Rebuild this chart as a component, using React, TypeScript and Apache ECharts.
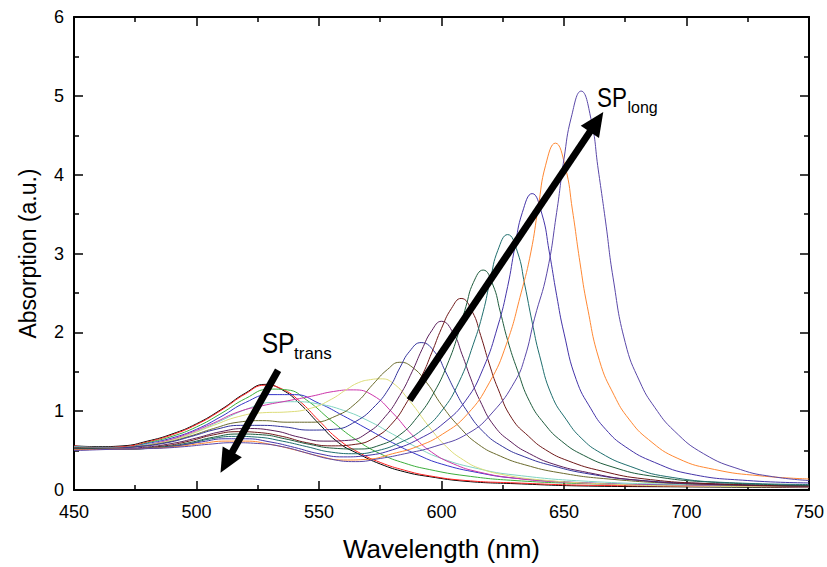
import React, { useEffect, useRef } from "react";
import * as echarts from "echarts";

// Absorption spectra: [wavelength (nm), absorption (a.u.)]
const s01 = [[450,0.56],[460,0.55],[470,0.56],[480,0.62],[490,0.71],[500,0.84],[510,1.02],[520,1.23],[528,1.34],[535,1.27],[542,1.10],[550,0.84],[558,0.60],[566,0.46],[575,0.33],[585,0.23],[595,0.17],[610,0.11],[630,0.08],[660,0.05],[700,0.04],[750,0.03]];
const s02 = [[450,0.56],[460,0.54],[470,0.55],[480,0.61],[490,0.70],[500,0.83],[510,1.01],[520,1.22],[528,1.33],[535,1.28],[542,1.13],[550,0.88],[558,0.64],[566,0.48],[575,0.35],[585,0.25],[595,0.18],[610,0.12],[630,0.09],[660,0.06],[700,0.05],[750,0.04]];
const s03 = [[450,0.55],[460,0.54],[470,0.54],[480,0.60],[490,0.68],[500,0.80],[510,0.97],[520,1.16],[530,1.28],[537,1.27],[545,1.14],[555,0.88],[565,0.64],[575,0.46],[585,0.34],[595,0.26],[610,0.18],[630,0.12],[660,0.08],[700,0.06],[750,0.04]];
const s04 = [[450,0.55],[460,0.54],[470,0.54],[480,0.59],[490,0.66],[500,0.77],[510,0.93],[520,1.11],[530,1.21],[540,1.21],[550,1.10],[560,0.94],[570,0.77],[580,0.60],[590,0.45],[600,0.33],[615,0.22],[630,0.15],[660,0.09],[700,0.06],[750,0.04]];
const s05 = [[450,0.55],[460,0.54],[470,0.54],[480,0.58],[490,0.64],[500,0.74],[510,0.88],[520,1.02],[530,1.11],[540,1.12],[550,1.09],[560,1.01],[570,0.88],[580,0.71],[590,0.54],[600,0.40],[615,0.27],[630,0.19],[660,0.11],[700,0.07],[750,0.05]];
const s06 = [[450,0.54],[462,0.53],[475,0.55],[487,0.62],[497,0.72],[507,0.85],[517,0.99],[527,1.07],[537,1.13],[547,1.19],[556,1.25],[564,1.27],[572,1.20],[580,0.98],[588,0.70],[596,0.48],[605,0.33],[615,0.23],[630,0.15],[650,0.10],[690,0.06],[750,0.04]];
const s07 = [[450,0.54],[462,0.53],[475,0.55],[487,0.61],[497,0.70],[507,0.82],[517,0.93],[527,0.98],[537,0.99],[547,1.04],[555,1.15],[561,1.27],[566,1.36],[571,1.40],[575,1.41],[580,1.36],[587,1.13],[595,0.80],[602,0.55],[609,0.38],[616,0.27],[626,0.19],[640,0.13],[665,0.08],[700,0.05],[750,0.04]];
const s08 = [[450,0.54],[462,0.53],[475,0.55],[487,0.60],[497,0.68],[507,0.78],[517,0.86],[527,0.88],[537,0.86],[547,0.86],[557,0.94],[565,1.10],[572,1.34],[578,1.53],[583,1.62],[588,1.56],[594,1.36],[600,1.08],[607,0.81],[615,0.58],[624,0.43],[634,0.32],[648,0.22],[668,0.14],[700,0.08],[750,0.05]];
const s09 = [[450,0.53],[463,0.53],[476,0.55],[488,0.60],[498,0.68],[508,0.77],[518,0.82],[526,0.82],[536,0.80],[546,0.76],[556,0.77],[565,0.87],[573,1.07],[579,1.31],[583,1.55],[587,1.76],[591.7,1.87],[597.5,1.74],[601.5,1.51],[605.5,1.26],[610,1.02],[617,0.74],[625,0.55],[634,0.42],[645,0.31],[661,0.20],[682,0.12],[710,0.08],[750,0.05]];
const s10 = [[450,0.53],[465,0.52],[478,0.54],[490,0.59],[500,0.66],[510,0.74],[520,0.78],[532,0.75],[542,0.67],[552,0.62],[562,0.63],[570,0.73],[577,0.93],[583,1.20],[588,1.50],[592,1.78],[596,2.02],[600,2.14],[604.8,1.99],[608.4,1.72],[612,1.41],[615.6,1.14],[621.6,0.81],[628.8,0.60],[636,0.46],[645.6,0.33],[660,0.22],[678,0.13],[710,0.07],[750,0.05]];
const s11 = [[450,0.53],[470,0.52],[487,0.56],[497,0.62],[507,0.70],[517,0.74],[525,0.73],[535,0.68],[545,0.60],[555,0.56],[565,0.58],[573,0.67],[580,0.85],[586,1.12],[592,1.45],[596,1.74],[600,2.05],[604,2.30],[608,2.43],[612.6,2.26],[616,1.96],[619.5,1.60],[623,1.29],[628.7,0.91],[635.6,0.68],[642.5,0.51],[651.7,0.37],[665.5,0.24],[683,0.14],[710,0.08],[750,0.05]];
const s12 = [[450,0.52],[470,0.52],[487,0.55],[497,0.60],[507,0.67],[517,0.71],[527,0.70],[536,0.65],[546,0.58],[556,0.53],[566,0.52],[575,0.57],[583,0.70],[590,0.92],[597,1.24],[603,1.64],[607,2.00],[610,2.33],[613,2.63],[617,2.79],[621,2.60],[624,2.26],[627,1.90],[631,1.52],[636,1.12],[642,0.84],[649,0.62],[658,0.44],[670,0.29],[685,0.18],[710,0.10],[750,0.06]];
const s13 = [[450,0.52],[470,0.52],[486,0.54],[496,0.58],[506,0.65],[516,0.68],[525,0.67],[535,0.62],[545,0.55],[555,0.48],[565,0.46],[574,0.50],[583,0.60],[592,0.76],[600,1.00],[607,1.36],[613,1.85],[617,2.26],[620,2.68],[623,3.04],[627,3.24],[631,3.02],[634,2.60],[637,2.13],[640,1.71],[645,1.20],[651,0.89],[657,0.66],[665,0.47],[677,0.30],[692,0.17],[720,0.09],[750,0.07]];
const s14 = [[450,0.51],[468,0.52],[482,0.53],[492,0.56],[502,0.61],[512,0.65],[520,0.65],[530,0.61],[540,0.54],[550,0.46],[560,0.42],[570,0.44],[580,0.51],[591,0.65],[601,0.85],[610,1.14],[617,1.54],[623,2.08],[627,2.58],[630,3.09],[633,3.52],[637,3.76],[641,3.50],[644,3.02],[647,2.47],[650,1.99],[655,1.40],[661,1.03],[667,0.77],[675,0.55],[687,0.35],[702,0.20],[725,0.12],[750,0.09]];
const s15 = [[450,0.51],[468,0.52],[482,0.53],[492,0.55],[502,0.59],[512,0.62],[520,0.62],[530,0.58],[540,0.51],[550,0.43],[560,0.38],[570,0.39],[580,0.46],[590,0.55],[600.5,0.71],[610.5,0.96],[619.5,1.36],[626.5,1.85],[632.5,2.50],[636.5,3.02],[639.5,3.59],[642.5,4.12],[646.5,4.40],[650.5,4.10],[653.5,3.54],[656.5,2.89],[659.5,2.33],[664.5,1.64],[670.5,1.20],[676.5,0.90],[684.5,0.64],[696.5,0.40],[711.5,0.26],[730,0.18],[750,0.14]];
const s16 = [[450,0.50],[470,0.52],[485,0.53],[495,0.55],[505,0.58],[515,0.60],[525,0.59],[535,0.55],[545,0.47],[555,0.39],[565,0.36],[575,0.40],[585,0.46],[597,0.55],[611,0.72],[621,0.99],[630,1.38],[634,1.68],[638,2.18],[643,2.75],[647,3.52],[650,4.20],[653,4.73],[657,5.06],[661,4.71],[664,4.06],[667,3.40],[670,2.70],[675,1.87],[681,1.37],[687,1.05],[695,0.75],[707,0.46],[722,0.26],[735,0.17],[750,0.12]];

const curves = [s01, s02, s03, s04, s05, s06, s07, s08, s09, s10, s11, s12, s13, s14, s15, s16];
const curveColors = [
  "#000000", "#ff1f1f", "#3cae3c", "#3535c8", "#80d4c2", "#cc35aa", "#dcdc78", "#6b6b2e",
  "#34349c", "#5c205c", "#6e1818", "#1f5c3d", "#1f6e6e", "#4434a8", "#ff8833", "#5a48a8",
];

// Annotation arrows in data coordinates: [tail, head]
const arrowTrans = [[533.3, 1.52], [512.2, 0.35]];
const arrowLong = [[587.0, 1.14], [663.3, 4.67]];

const xTicks = { min: 450, max: 750, interval: 50 };
const yTicks = { min: 0, max: 6, interval: 1 };

const FONT = '"Liberation Sans", Arial, Helvetica, sans-serif';

export default function App() {
  const ref = useRef<HTMLDivElement>(null);
  useEffect(() => {
    const chart = echarts.init(ref.current!, null, { renderer: "svg" });
    const line = { show: true, onZero: false, lineStyle: { color: "#000", width: 2 } };
    const tick = { show: true, inside: true, length: 9, lineStyle: { color: "#000", width: 1.5 } };
    const minor = { show: true, splitNumber: 2, length: 5, lineStyle: { color: "#000", width: 1.5 } };
    const series: any[] = curves.map((d, i) => ({
      type: "line",
      data: d,
      showSymbol: false,
      symbol: "none",
      smooth: 0.5,
      silent: true,
      lineStyle: { color: curveColors[i], width: 1 },
      itemStyle: { color: curveColors[i] },
      z: 2,
    }));
    series.push({
      type: "line",
      data: [],
      silent: true,
      z: 5,
      markLine: {
        silent: true,
        animation: false,
        symbol: ["none", "triangle"],
        symbolSize: [22, 24],
        label: { show: false },
        emphasis: { disabled: true },
        lineStyle: { color: "#000", width: 7, type: "solid", cap: "butt" },
        itemStyle: { color: "#000" },
        data: [
          [{ coord: arrowTrans[0] }, { coord: arrowTrans[1] }],
          [{ coord: arrowLong[0] }, { coord: arrowLong[1] }],
        ],
      },
    });
    const txt = (text: string, x: number, y: number, size: number, sx = 1) => ({
      type: "text",
      x,
      y,
      scaleX: sx,
      silent: true,
      z: 10,
      style: {
        text,
        fontSize: size,
        fontFamily: FONT,
        fill: "#000",
        align: "left",
        verticalAlign: "middle",
      },
    });
    chart.setOption({
      animation: false,
      backgroundColor: "#fff",
      grid: { left: 74, right: 17, top: 17, bottom: 73, containLabel: false },
      xAxis: [
        {
          type: "value", ...xTicks, position: "bottom",
          axisLine: line, axisTick: tick, minorTick: minor, splitLine: { show: false },
          axisLabel: { color: "#000", fontSize: 18, fontFamily: FONT, margin: 13 },
          name: "Wavelength (nm)", nameLocation: "middle", nameGap: 46,
          nameTextStyle: { color: "#000", fontSize: 26, fontFamily: FONT },
        },
        {
          type: "value", ...xTicks, position: "top",
          axisLine: line, axisTick: tick, minorTick: minor, splitLine: { show: false },
          axisLabel: { show: false },
        },
      ],
      yAxis: [
        {
          type: "value", ...yTicks, position: "left",
          axisLine: line, axisTick: tick, minorTick: minor, splitLine: { show: false },
          axisLabel: { color: "#000", fontSize: 18, fontFamily: FONT, margin: 10 },
          name: "Absorption (a.u.)", nameLocation: "middle", nameGap: 35,
          nameTextStyle: { color: "#000", fontSize: 23, fontFamily: FONT },
        },
        {
          type: "value", ...yTicks, position: "right",
          axisLine: line, axisTick: tick, minorTick: minor, splitLine: { show: false },
          axisLabel: { show: false },
        },
      ],
      series,
      graphic: [
        txt("SP", 597, 97, 28, 0.8),
        txt("long", 627.5, 107.8, 16),
        txt("SP", 261.7, 342.9, 30, 0.82),
        txt("trans", 294, 353.4, 17),
      ],
    });
    return () => chart.dispose();
  }, []);
  return (
    <div
      ref={ref}
      style={{ position: "fixed", left: 0, top: 0, width: 827, height: 567, background: "#fff" }}
    />
  );
}
